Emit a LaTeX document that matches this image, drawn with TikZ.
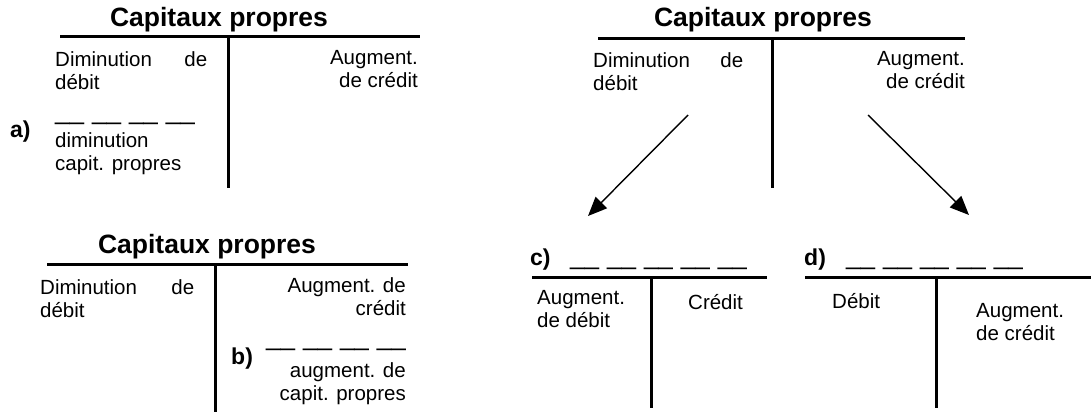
\documentclass[tikz,border=0pt]{standalone}
\usepackage{fontspec}
\setmainfont{Liberation Sans}
\usetikzlibrary{arrows.meta}
\newcommand{\fourblanks}{\_\_\hspace{8pt}\_\_\hspace{8pt}\_\_\hspace{8pt}\_\_}
\newcommand{\fiveblanks}{\_\_\hspace{8pt}\_\_\hspace{8pt}\_\_\hspace{8pt}\_\_\hspace{8pt}\_\_}
\begin{document}
\begin{tikzpicture}[x=1pt,y=-1pt,
  tline/.style={line width=3pt},
  arr/.style={line width=1.4pt,-{Triangle[length=19pt,width=16pt]}},
  body/.style={font=\fontsize{20.5}{23}\selectfont,inner sep=0pt},
  ttl/.style={font=\bfseries\fontsize{26.5}{30}\selectfont,inner sep=0pt},
  lbl/.style={font=\bfseries\fontsize{23}{26}\selectfont,inner sep=0pt},
  blank/.style={font=\fontsize{26}{28}\selectfont,inner sep=0pt}]
\useasboundingbox (0,0) rectangle (1091,415);

% ---- T account A (top left); multi-line nodes are placed by the baseline of their last line
\coordinate (Al) at (60,36); \coordinate (Ar) at (420,36);
\coordinate (At) at (228,36); \coordinate (Ab) at (228,188);
\node[ttl,anchor=base] (Atitle) at (219,26) {Capitaux propres};
\node[body,anchor=base west,align=left] (Adeb) at (55,89) {\makebox[152pt][l]{Diminution\hfill de}\\débit};
\node[body,anchor=base east,align=right] (Acre) at (418,87) {Augment.\\de crédit};
\node[lbl,anchor=base west] (Alab) at (10,137) {a)};
\node[blank,anchor=base west] (Ablank) at (55,119) {\fourblanks};
\node[body,anchor=base west,align=left] (Atxt) at (55,170) {diminution\\capit. propres};
\draw[tline] (Al) -- (Ar);
\draw[tline] (At) -- (Ab);

% ---- T account B (bottom left)
\coordinate (Bl) at (47,264); \coordinate (Br) at (408,264);
\coordinate (Bt) at (215,264); \coordinate (Bb) at (215,412);
\node[ttl,anchor=base] (Btitle) at (207,253) {Capitaux propres};
\node[body,anchor=base west,align=left] (Bdeb) at (40,317) {\makebox[154pt][l]{Diminution\hfill de}\\débit};
\node[body,anchor=base east,align=right] (Bcre) at (406,315) {Augment. de\\crédit};
\node[lbl,anchor=base west] (Blab) at (231,364) {b)};
\node[blank,anchor=base west] (Bblank) at (266,345) {\fourblanks};
\node[body,anchor=base east,align=right] (Btxt) at (406,400) {augment. de\\capit. propres};
\draw[tline] (Bl) -- (Br);
\draw[tline] (Bt) -- (Bb);

% ---- T account C (top right)
\coordinate (Cl) at (598,38); \coordinate (Cr) at (965,38);
\coordinate (Ct) at (772,38); \coordinate (Cb) at (772,188);
\node[ttl,anchor=base] (Ctitle) at (763,26) {Capitaux propres};
\node[body,anchor=base west,align=left] (Cdeb) at (593,90) {\makebox[150pt][l]{Diminution\hfill de}\\débit};
\node[body,anchor=base east,align=right] (Ccre) at (965,88) {Augment.\\de crédit};
\draw[tline] (Cl) -- (Cr);
\draw[tline] (Ct) -- (Cb);
\coordinate (Cs1) at (688,115); \coordinate (Cs2) at (868,115);
\coordinate (Dtip) at (588,216); \coordinate (Etip) at (969,215);
\draw[arr] (Cs1) -- (Dtip);
\draw[arr] (Cs2) -- (Etip);

% ---- T account D (c)
\coordinate (Dl) at (532,277); \coordinate (Dr) at (767,277);
\coordinate (Dt) at (651,277); \coordinate (Db) at (651,408);
\node[lbl,anchor=base west] (Dlab) at (530,265) {c)};
\node[blank,anchor=base west] (Dblank) at (570,264) {\fiveblanks};
\node[body,anchor=base west,align=left] (Ddeb) at (537,327) {Augment.\\de débit};
\node[body,anchor=base west] (Dcre) at (688,309) {Crédit};
\draw[tline] (Dl) -- (Dr);
\draw[tline] (Dt) -- (Db);

% ---- T account E (d)
\coordinate (El) at (805,277); \coordinate (Er) at (1091,277);
\coordinate (Et) at (936,277); \coordinate (Eb) at (936,408);
\node[lbl,anchor=base west] (Elab) at (804,265) {d)};
\node[blank,anchor=base west] (Eblank) at (846,264) {\fiveblanks};
\node[body,anchor=base west] (Edeb) at (832,308) {Débit};
\node[body,anchor=base west,align=left] (Ecre) at (976,340) {Augment.\\de crédit};
\draw[tline] (El) -- (Er);
\draw[tline] (Et) -- (Eb);
\end{tikzpicture}
\end{document}
